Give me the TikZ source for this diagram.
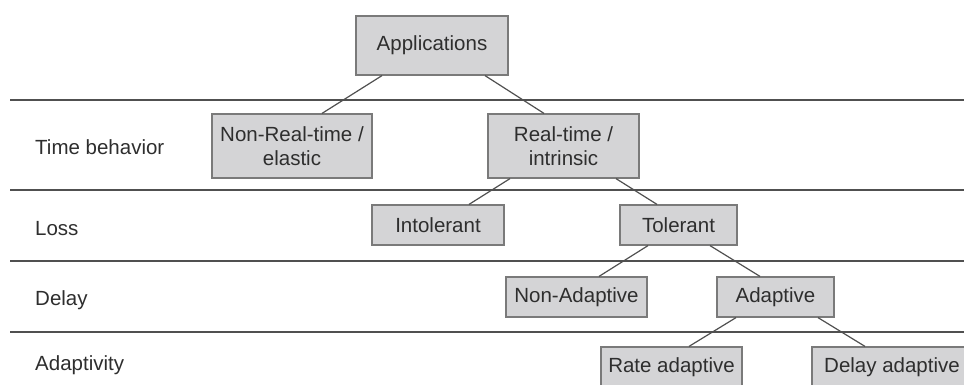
\documentclass[tikz,border=0pt]{standalone}
\usepackage{fontspec}
\setmainfont{Liberation Sans}
\usetikzlibrary{calc}
\definecolor{boxfill}{HTML}{D4D4D6}
\definecolor{boxline}{HTML}{7A7A7A}
\definecolor{inkline}{HTML}{505050}
\definecolor{textcol}{HTML}{2E2E2E}
\begin{document}
\begin{tikzpicture}[x=1pt,y=-1pt,
  every node/.style={text=textcol,font=\fontsize{20.5}{24}\selectfont},
  catbox/.style={draw=boxline,fill=boxfill,line width=1.2pt,inner sep=0pt,align=center},
  rowlabel/.style={anchor=base west,inner sep=0pt},
  rule/.style={draw=inkline,line width=1.2pt},
  link/.style={draw=inkline,line width=1.2pt}]
\useasboundingbox (0,0) rectangle (964,384);
\clip (0,0) rectangle (964,384);

% row separators
\draw[rule] (10,100) -- (964,100);
\draw[rule] (10,190) -- (964,190);
\draw[rule] (10,261) -- (964,261);
\draw[rule] (10,332) -- (964,332);

% row labels
\node[rowlabel] (lTime) at (35,154) {Time behavior};
\node[rowlabel] (lLoss) at (35,235) {Loss};
\node[rowlabel] (lDelay) at (35,305) {Delay};
\node[rowlabel] (lAdapt) at (35,370) {Adaptivity};

% category boxes
\node[catbox,minimum width=152pt,minimum height=59pt] (app) at (432,45.5) {Applications};
\node[catbox,minimum width=160pt,minimum height=64pt] (nrt) at (292,146) {Non-Real-time /\\elastic};
\node[catbox,minimum width=151pt,minimum height=64pt] (rt) at (563.5,146) {Real-time /\\intrinsic};
\node[catbox,minimum width=132pt,minimum height=40pt] (intol) at (438,225) {Intolerant};
\node[catbox,minimum width=117pt,minimum height=40pt] (tol) at (678.5,225) {Tolerant};
\node[catbox,minimum width=141pt,minimum height=40pt] (nad) at (576.5,297) {Non-Adaptive};
\node[catbox,minimum width=117pt,minimum height=40pt] (ad) at (775.5,297) {Adaptive};
\node[catbox,minimum width=141pt,minimum height=40pt] (rate) at (671.5,367) {Rate adaptive};
\node[catbox,minimum width=160pt,minimum height=40pt] (dly) at (892,367) {Delay adaptive};

% tree links
\draw[link] ($(app.south)+(-50,0)$) -- ($(nrt.north)+(30,0)$);
\draw[link] ($(app.south)+(53,0)$) -- ($(rt.north)+(-19.5,0)$);
\draw[link] ($(rt.south)+(-53.5,0)$) -- ($(intol.north)+(31,0)$);
\draw[link] ($(rt.south)+(52.5,0)$) -- ($(tol.north)+(-21.5,0)$);
\draw[link] ($(tol.south)+(-30.5,0)$) -- ($(nad.north)+(22.5,0)$);
\draw[link] ($(tol.south)+(31.5,0)$) -- ($(ad.north)+(-15.5,0)$);
\draw[link] ($(ad.south)+(-39.5,0)$) -- ($(rate.north)+(17.5,0)$);
\draw[link] ($(ad.south)+(42.5,0)$) -- ($(dly.north)+(-27,0)$);
\end{tikzpicture}
\end{document}
